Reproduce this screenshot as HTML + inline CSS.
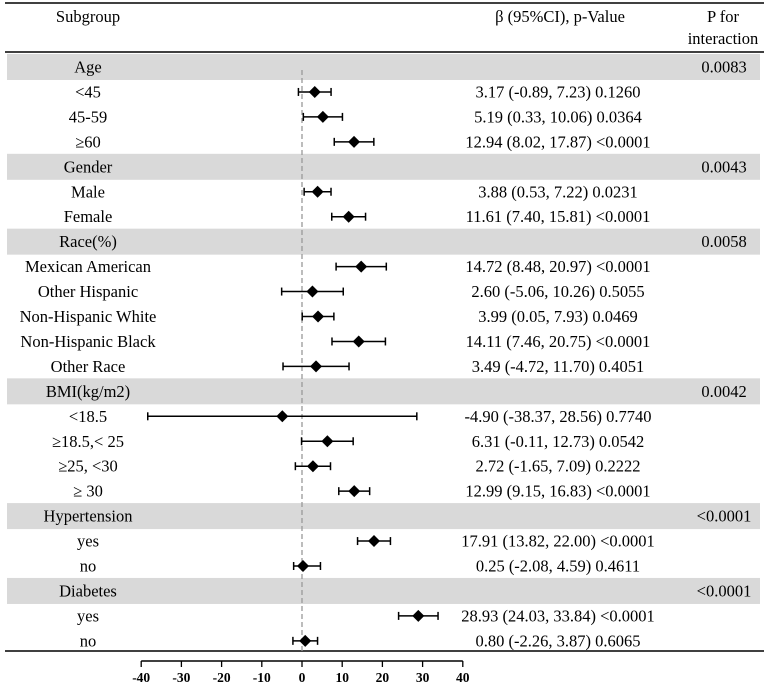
<!DOCTYPE html>
<html><head><meta charset="utf-8"><style>
html,body{margin:0;padding:0;background:#fff;}
svg{display:block;font-family:"Liberation Serif",serif;}
</style></head><body>
<svg width="769" height="686" viewBox="0 0 769 686" id="chart"></svg>
<script>
const labels=["Age","<45","45-59","≥60","Gender","Male","Female","Race(%)","Mexican American","Other Hispanic","Non-Hispanic White","Non-Hispanic Black","Other Race","BMI(kg/m2)","<18.5","≥18.5,< 25","≥25, <30","≥ 30","Hypertension","yes","no","Diabetes","yes","no"];
const isHeader=[1,0,0,0,1,0,0,1,0,0,0,0,0,1,0,0,0,0,1,0,0,1,0,0];
const est=[null,3.17,5.19,12.94,null,3.88,11.61,null,14.72,2.60,3.99,14.11,3.49,null,-4.90,6.31,2.72,12.99,null,17.91,0.25,null,28.93,0.80];
const lower=[null,-0.89,0.33,8.02,null,0.53,7.40,null,8.48,-5.06,0.05,7.46,-4.72,null,-38.37,-0.11,-1.65,9.15,null,13.82,-2.08,null,24.03,-2.26];
const upper=[null,7.23,10.06,17.87,null,7.22,15.81,null,20.97,10.26,7.93,20.75,11.70,null,28.56,12.73,7.09,16.83,null,22.00,4.59,null,33.84,3.87];
const pvals=[null,"0.1260","0.0364","<0.0001",null,"0.0231","<0.0001",null,"<0.0001","0.5055","0.0469","<0.0001","0.4051",null,"0.7740","0.0542","0.2222","<0.0001",null,"<0.0001","0.4611",null,"<0.0001","0.6065"];
const pint=["0.0083",null,null,null,"0.0043",null,null,"0.0058",null,null,null,null,null,"0.0042",null,null,null,null,"<0.0001",null,null,"<0.0001",null,null];
const ticks=[-40,-30,-20,-10,0,10,20,30,40];

const svg=document.getElementById('chart');
const NS='http://www.w3.org/2000/svg';
function mk(t,a,txt){const e=document.createElementNS(NS,t);for(const k in a)e.setAttribute(k,a[k]);if(txt!=null)e.textContent=txt;svg.appendChild(e);return e;}
const x=v=>302+v*4.02;
const rowTop=i=>54+i*24.95;
const rowMid=i=>rowTop(i)+13;
const fmt=v=>v.toFixed(2);
const FS=16.5;

isHeader.forEach((h,i)=>{if(h){const r=mk('rect',{x:7,y:rowTop(i),width:753,height:26,fill:'#d9d9d9'});

}});
let l=mk('line',{x1:5,x2:764,y1:3,y2:3,stroke:'#000','stroke-width':1.5});

l=mk('line',{x1:5,x2:764,y1:52,y2:52,stroke:'#000','stroke-width':1.5});

l=mk('line',{x1:5,x2:764,y1:651,y2:651,stroke:'#000','stroke-width':1.5});

let t=mk('text',{x:88,y:22,'text-anchor':'middle','font-size':FS},'Subgroup');

t=mk('text',{x:560,y:22,'text-anchor':'middle','font-size':FS},'β (95%CI), p-Value');

t=mk('text',{x:723,y:22,'text-anchor':'middle','font-size':FS},'P for');

t=mk('text',{x:723,y:44,'text-anchor':'middle','font-size':FS},'interaction');

l=mk('line',{x1:x(0),x2:x(0),y1:70,y2:651,stroke:'#999','stroke-width':1.3,'stroke-dasharray':'5,3'});


labels.forEach((lab,i)=>{
  const y=rowMid(i);
  const tx=mk('text',{x:88,y:y+5.5,'text-anchor':'middle','font-size':FS},lab);
  
  
  if(pint[i]){const p=mk('text',{x:724,y:y+5.5,'text-anchor':'middle','font-size':FS},pint[i]);
    
    }
  if(est[i]!=null){
    const e=mk('text',{x:558,y:y+5.5,'text-anchor':'middle','font-size':FS},fmt(est[i])+' ('+fmt(lower[i])+', '+fmt(upper[i])+') '+pvals[i]);
    
    
    const ci=mk('line',{x1:x(lower[i]),x2:x(upper[i]),y1:y,y2:y,stroke:'#000','stroke-width':1.5});
    
    
    [lower[i],upper[i]].forEach(v=>{const c=mk('line',{x1:x(v),x2:x(v),y1:y-4,y2:y+4,stroke:'#000','stroke-width':1.5});
      
      });
    const cx=x(est[i]);
    const d=mk('polygon',{points:`${cx},${y-6} ${cx+6},${y} ${cx},${y+6} ${cx-6},${y}`,fill:'#000'});
    
    
  }
});
l=mk('line',{x1:x(ticks[0]),x2:x(ticks[ticks.length-1]),y1:661,y2:661,stroke:'#000','stroke-width':1.5});

ticks.forEach(v=>{
  const tk=mk('line',{x1:x(v),x2:x(v),y1:661,y2:667,stroke:'#000','stroke-width':1.3});
  
  
  const tl=mk('text',{x:x(v),y:682,'text-anchor':'middle','font-size':13.5,'font-weight':'bold'},String(v));
  
  
});
</script>
</body></html>
